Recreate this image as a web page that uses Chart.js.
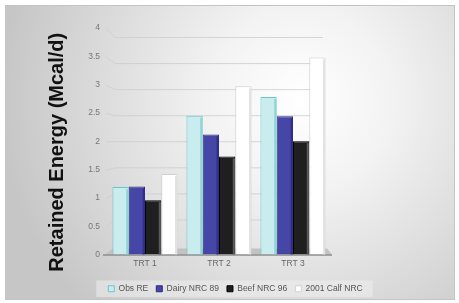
<!DOCTYPE html>
<html><head><meta charset="utf-8">
<script src="https://cdn.jsdelivr.net/npm/chart.js@4"></script>
<style>html,body{margin:0;padding:0;background:#fff}#wrap{width:459px;height:303px}</style>
</head><body><div id="wrap"><canvas id="c" width="459" height="303"></canvas></div>
<script>
const categories = ['TRT 1', 'TRT 2', 'TRT 3'];
const seriesNames = ['Obs RE', 'Dairy NRC 89', 'Beef NRC 96', '2001 Calf NRC'];
const obsRE = [1.19, 2.45, 2.78];
const dairyNRC89 = [1.20, 2.12, 2.44];
const beefNRC96 = [0.96, 1.73, 2.00];
const calfNRC2001 = [1.42, 2.97, 3.48];
const yTickLabels = ['0', '0.5', '1', '1.5', '2', '2.5', '3', '3.5', '4'];
const yTitle = 'Retained Energy (Mcal/d)';

const fills = ['#c9ecee', '#4646a6', '#1f1f1f', '#ffffff'];
const borders = ['#6cc4c8', '#2c2c80', '#000000', '#d0d0d0'];
const sides = ['#92d3d6', '#30308a', '#5a5a5a', '#e2e2e2'];
const values = [obsRE, dairyNRC89, beefNRC96, calfNRC2001];

const decor = {
  id: 'decor',
  beforeDraw(chart) {
    const ctx = chart.ctx;
    ctx.save();
    ctx.fillStyle = '#ffffff';
    ctx.fillRect(0, 0, chart.width, chart.height);
    const g = ctx.createRadialGradient(300, 100, 0, 300, 100, 300);
    g.addColorStop(0, '#ffffff');
    g.addColorStop(0.3, '#f3f3f3');
    g.addColorStop(1, '#c6c6c6');
    ctx.fillStyle = g;
    ctx.fillRect(5, 5, 450, 295);
    ctx.strokeStyle = '#c4c4c4';
    ctx.lineWidth = 1;
    ctx.strokeRect(5.5, 5.5, 449, 294);
    const lg = chart.legend;
    if (lg && lg.legendHitBoxes && lg.legendHitBoxes.length) {
      const hb = lg.legendHitBoxes;
      let l = Infinity, r = -Infinity, t = Infinity, b = -Infinity;
      hb.forEach(h => { l = Math.min(l, h.left); r = Math.max(r, h.left + h.width); t = Math.min(t, h.top); b = Math.max(b, h.top + h.height); });
      ctx.fillStyle = 'rgba(238,238,238,0.55)';
      ctx.fillRect(l - 12, t - 4, r - l + 22, b - t + 8);
    }
    ctx.restore();
  },
  beforeDatasetsDraw(chart) {
    const ctx = chart.ctx;
    const ya = chart.scales.y;
    const a = chart.chartArea;
    ctx.save();
    ctx.strokeStyle = 'rgba(200,206,208,0.8)';
    ctx.lineWidth = 1;
    ya.ticks.forEach(t => {
      if (t.value === 0) return;
      const py = ya.getPixelForValue(t.value);
      const by = py + (t.value - 2) * 4.5;
      ctx.beginPath();
      ctx.moveTo(a.left - 2, py + 0.5);
      ctx.lineTo(a.left + 7, by + 0.5);
      ctx.lineTo(a.right - 7, by + 0.5);
      ctx.stroke();
    });
    const fb = a.bottom;
    const fl = a.left - 3, fr = a.right + 2;
    ctx.fillStyle = '#c2c2c2';
    ctx.beginPath();
    ctx.moveTo(fl, fb);
    ctx.lineTo(fl + 8, fb - 6);
    ctx.lineTo(fr - 5, fb - 6);
    ctx.lineTo(fr, fb);
    ctx.closePath();
    ctx.fill();
    ctx.strokeStyle = '#8c8c8c';
    ctx.lineWidth = 1.5;
    ctx.beginPath();
    ctx.moveTo(fl - 2, fb + 0.5);
    ctx.lineTo(fr, fb + 0.5);
    ctx.stroke();
    ctx.translate(57, (a.top + a.bottom) / 2 + 11);
    ctx.rotate(-Math.PI / 2);
    ctx.fillStyle = '#111';
    ctx.font = 'bold 20px "Liberation Sans"';
    ctx.textAlign = 'center';
    ctx.textBaseline = 'middle';
    ctx.fillText(yTitle, 0, 0);
    ctx.restore();
  },
  afterDatasetsDraw(chart) {
    const ctx = chart.ctx;
    ctx.save();
    chart.data.datasets.forEach((ds, i) => {
      chart.getDatasetMeta(i).data.forEach(bar => {
        const p = bar.getProps(['x', 'y', 'base', 'width'], true);
        const r = p.x + p.width / 2;
        ctx.fillStyle = sides[i];
        ctx.fillRect(r - 2.5, p.y + 2, 2, p.base - p.y - 2);
      });
    });
    ctx.restore();
  }
};

new Chart(document.getElementById('c'), {
  type: 'bar',
  data: {
    labels: categories,
    datasets: seriesNames.map((n, i) => ({
      label: n,
      data: values[i],
      backgroundColor: fills[i],
      borderColor: borders[i],
      borderWidth: 1,
      categoryPercentage: 0.88,
      barPercentage: 1.0
    }))
  },
  options: {
    responsive: false,
    animation: false,
    devicePixelRatio: 1,
    layout: { padding: { left: 12, right: 0, top: 28, bottom: 0 } },
    plugins: {
      legend: {
        position: 'bottom',
        labels: {
          boxWidth: 6, boxHeight: 6, padding: 8,
          color: '#555', font: { family: 'Liberation Sans', size: 8.5 }
        }
      },
      tooltip: { enabled: false }
    },
    scales: {
      x: {
        afterFit(s) { s.height = 22; },
        grid: { display: false, drawTicks: false }, border: { display: false },
        ticks: { color: '#666', font: { family: 'Liberation Sans', size: 8.5 }, padding: 4 }
      },
      y: {
        min: 0, max: 4,
        afterFit(s) { s.width = 96; },
        afterBuildTicks(s) { s.ticks = yTickLabels.map(v => ({ value: parseFloat(v) })); },
        ticks: {
          callback: (v) => yTickLabels.find(t => parseFloat(t) === v),
          color: '#777', font: { family: 'Liberation Sans', size: 8.5 }, padding: 8
        },
        grid: { display: false, drawTicks: false }, border: { display: false },
        title: { display: false }
      },
      y2: {
        position: 'right', display: true,
        afterFit(s) { s.width = 129; },
        ticks: { display: false },
        grid: { display: false, drawTicks: false }, border: { display: false }
      }
    }
  },
  plugins: [decor]
});
</script></body></html>
